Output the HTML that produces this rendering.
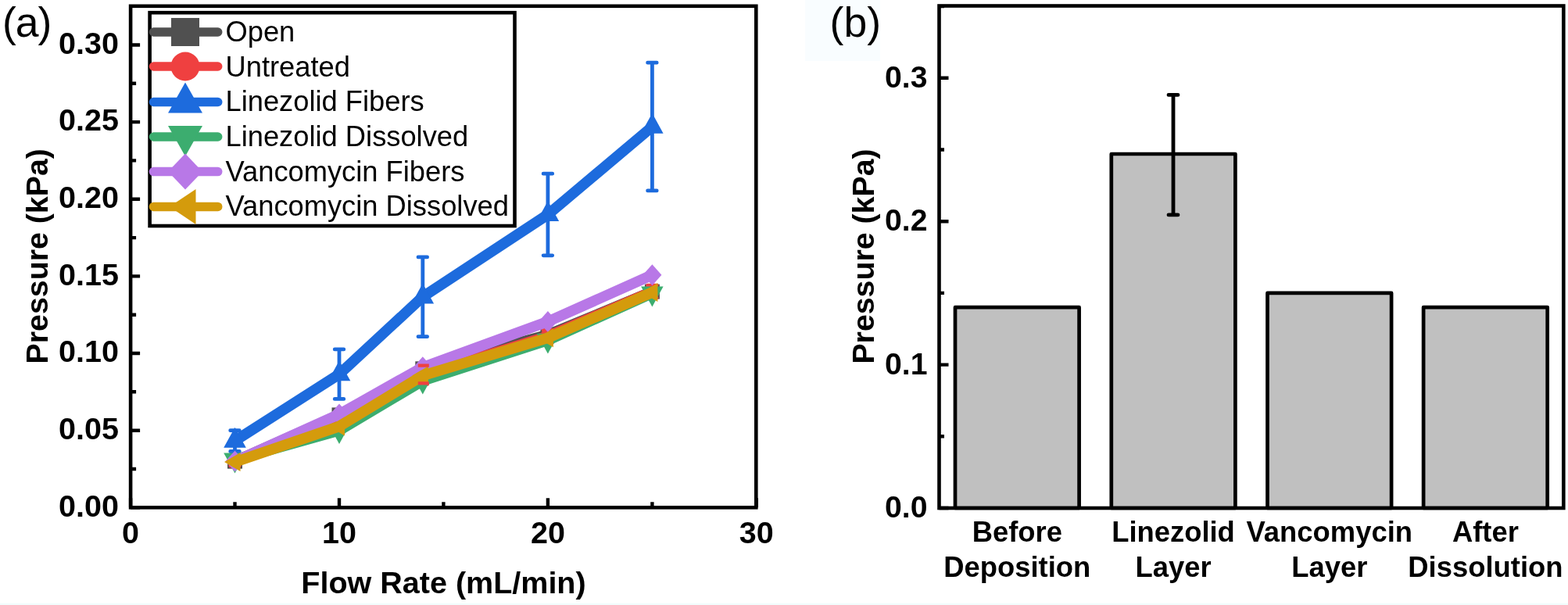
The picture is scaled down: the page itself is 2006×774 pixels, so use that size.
<!DOCTYPE html>
<html lang="en"><head><meta charset="utf-8"><title>Pressure vs flow rate</title>
<style>html,body{margin:0;padding:0;background:#fff}body{width:2006px;height:774px;overflow:hidden}svg{display:block}</style>
</head><body>
<svg width="2006" height="774" viewBox="0 0 2006 774">
<rect width="2006" height="774" fill="#fff"/>
<rect x="0" y="771.6" width="2006" height="2.4" fill="#f2fcfc"/>
<rect x="1030" y="0" width="96" height="78" fill="#f9fdff"/>
<g id="panelA">
<polyline points="300.5,590.1 434.0,530.9 540.8,471.8 700.9,428.4 834.4,373.1" fill="none" stroke="#505050" stroke-width="13.6" stroke-linejoin="round" stroke-linecap="round"/>
<rect x="291.0" y="580.6" width="19.0" height="19.0" fill="#505050"/>
<rect x="424.5" y="521.4" width="19.0" height="19.0" fill="#505050"/>
<rect x="531.3" y="462.3" width="19.0" height="19.0" fill="#505050"/>
<rect x="691.4" y="418.9" width="19.0" height="19.0" fill="#505050"/>
<rect x="824.9" y="363.6" width="19.0" height="19.0" fill="#505050"/>
<path d="M300.5 584.2V596.0M294.7 584.2h11.6M294.7 596.0h11.6" stroke="#ef4040" stroke-width="4.8" fill="none" stroke-linecap="round"/>
<path d="M434.0 530.9V546.7M428.2 530.9h11.6M428.2 546.7h11.6" stroke="#ef4040" stroke-width="4.8" fill="none" stroke-linecap="round"/>
<path d="M540.8 467.8V491.5M535.0 467.8h11.6M535.0 491.5h11.6" stroke="#ef4040" stroke-width="4.8" fill="none" stroke-linecap="round"/>
<path d="M700.9 422.4V438.2M695.1 422.4h11.6M695.1 438.2h11.6" stroke="#ef4040" stroke-width="4.8" fill="none" stroke-linecap="round"/>
<path d="M834.4 365.2V381.0M828.6 365.2h11.6M828.6 381.0h11.6" stroke="#ef4040" stroke-width="4.8" fill="none" stroke-linecap="round"/>
<polyline points="300.5,590.1 434.0,538.8 540.8,479.7 700.9,430.3 834.4,373.1" fill="none" stroke="#ef4040" stroke-width="13.6" stroke-linejoin="round" stroke-linecap="round"/>
<circle cx="300.5" cy="590.1" r="9.5" fill="#ef4040"/>
<circle cx="434.0" cy="538.8" r="9.5" fill="#ef4040"/>
<circle cx="540.8" cy="479.7" r="9.5" fill="#ef4040"/>
<circle cx="700.9" cy="430.3" r="9.5" fill="#ef4040"/>
<circle cx="834.4" cy="373.1" r="9.5" fill="#ef4040"/>
<path d="M300.5 550.7V577.5M294.7 550.7h11.6M294.7 577.5h11.6" stroke="#1d6bdd" stroke-width="4.8" fill="none" stroke-linecap="round"/>
<path d="M434.0 446.9V510.4M428.2 446.9h11.6M428.2 510.4h11.6" stroke="#1d6bdd" stroke-width="4.8" fill="none" stroke-linecap="round"/>
<path d="M540.8 328.9V430.7M535.0 328.9h11.6M535.0 430.7h11.6" stroke="#1d6bdd" stroke-width="4.8" fill="none" stroke-linecap="round"/>
<path d="M700.9 222.2V326.8M695.1 222.2h11.6M695.1 326.8h11.6" stroke="#1d6bdd" stroke-width="4.8" fill="none" stroke-linecap="round"/>
<path d="M834.4 80.2V243.9M828.6 80.2h11.6M828.6 243.9h11.6" stroke="#1d6bdd" stroke-width="4.8" fill="none" stroke-linecap="round"/>
<polyline points="300.5,564.1 434.0,478.7 540.8,379.8 700.9,274.5 834.4,162.1" fill="none" stroke="#1d6bdd" stroke-width="13.6" stroke-linejoin="round" stroke-linecap="round"/>
<polygon points="300.5,546.8 314.8,572.7 286.2,572.7" fill="#1d6bdd"/>
<polygon points="434.0,461.4 448.3,487.3 419.7,487.3" fill="#1d6bdd"/>
<polygon points="540.8,362.5 555.1,388.4 526.5,388.4" fill="#1d6bdd"/>
<polygon points="700.9,257.2 715.2,283.1 686.6,283.1" fill="#1d6bdd"/>
<polygon points="834.4,144.8 848.6,170.7 820.1,170.7" fill="#1d6bdd"/>
<polyline points="300.5,588.1 434.0,550.7 540.8,487.1 700.9,435.3 834.4,375.1" fill="none" stroke="#3cad6f" stroke-width="13.6" stroke-linejoin="round" stroke-linecap="round"/>
<polygon points="300.5,605.4 314.8,579.5 286.2,579.5" fill="#3cad6f"/>
<polygon points="434.0,568.0 448.3,542.1 419.7,542.1" fill="#3cad6f"/>
<polygon points="540.8,504.4 555.1,478.5 526.5,478.5" fill="#3cad6f"/>
<polygon points="700.9,452.6 715.2,426.7 686.6,426.7" fill="#3cad6f"/>
<polygon points="834.4,392.4 848.6,366.5 820.1,366.5" fill="#3cad6f"/>
<polyline points="300.5,590.1 434.0,530.0 540.8,469.8 700.9,411.4 834.4,351.8" fill="none" stroke="#b878e7" stroke-width="13.6" stroke-linejoin="round" stroke-linecap="round"/>
<polygon points="300.5,576.6 312.5,590.1 300.5,603.6 288.5,590.1" fill="#b878e7"/>
<polygon points="434.0,516.5 446.0,530.0 434.0,543.5 422.0,530.0" fill="#b878e7"/>
<polygon points="540.8,456.3 552.8,469.8 540.8,483.3 528.8,469.8" fill="#b878e7"/>
<polygon points="700.9,397.9 712.9,411.4 700.9,424.9 688.9,411.4" fill="#b878e7"/>
<polygon points="834.4,338.3 846.4,351.8 834.4,365.3 822.4,351.8" fill="#b878e7"/>
<polyline points="300.5,591.1 434.0,545.5 540.8,480.6 700.9,432.3 834.4,373.9" fill="none" stroke="#d49b0c" stroke-width="13.6" stroke-linejoin="round" stroke-linecap="round"/>
<polygon points="287.0,591.1 307.5,579.1 307.5,603.1" fill="#d49b0c"/>
<polygon points="420.5,545.5 441.0,533.5 441.0,557.5" fill="#d49b0c"/>
<polygon points="527.3,480.6 547.8,468.6 547.8,492.6" fill="#d49b0c"/>
<polygon points="687.4,432.3 707.9,420.3 707.9,444.3" fill="#d49b0c"/>
<polygon points="820.9,373.9 841.4,361.9 841.4,385.9" fill="#d49b0c"/>
<path d="M534.8 467.6h14M534.8 490.4h14" stroke="#ef4040" stroke-width="4.4" fill="none"/>
<rect x="167.1" y="7.8" width="800.2" height="641.5" fill="none" stroke="#000" stroke-width="4.6"/>
<path d="M167.1 649.3h12M167.1 550.7h12M167.1 452.0h12M167.1 353.4h12M167.1 254.8h12M167.1 156.1h12M167.1 57.5h12M167.1 600.0h7M167.1 501.3h7M167.1 402.7h7M167.1 304.1h7M167.1 205.4h7M167.1 106.8h7M167.1 649.3v-12M434.0 649.3v-12M700.9 649.3v-12M967.8 649.3v-12M300.5 649.3v-7M567.4 649.3v-7M834.4 649.3v-7" stroke="#000" stroke-width="4.4" fill="none"/>
<g font-family="Liberation Sans, Arial, sans-serif" font-weight="bold" font-size="39.5" fill="#000">
<text x="152" y="660.5" text-anchor="end">0.00</text>
<text x="152" y="561.9" text-anchor="end">0.05</text>
<text x="152" y="463.2" text-anchor="end">0.10</text>
<text x="152" y="364.6" text-anchor="end">0.15</text>
<text x="152" y="266.0" text-anchor="end">0.20</text>
<text x="152" y="167.3" text-anchor="end">0.25</text>
<text x="152" y="68.7" text-anchor="end">0.30</text>
<text x="167.1" y="694.5" text-anchor="middle">0</text>
<text x="434.0" y="694.5" text-anchor="middle">10</text>
<text x="700.9" y="694.5" text-anchor="middle">20</text>
<text x="967.8" y="694.5" text-anchor="middle">30</text>
</g>
<text font-family="Liberation Sans, Arial, sans-serif" font-weight="bold" font-size="39.5" x="567.5" y="759.3" text-anchor="middle">Flow Rate (mL/min)</text>
<text font-family="Liberation Sans, Arial, sans-serif" font-weight="bold" font-size="39.3" transform="translate(60.8 327.8) rotate(-90)" text-anchor="middle">Pressure (kPa)</text>
<text font-family="Liberation Sans, Arial, sans-serif" font-size="53.5" x="3" y="46.5" letter-spacing="-1">(a)</text>
<rect x="191.6" y="16.2" width="466.9" height="272.8" fill="#fff" stroke="#000" stroke-width="4.6"/>
<g font-family="Liberation Sans, Arial, sans-serif" font-size="36.3" fill="#000">
<line x1="196.5" y1="41" x2="278.7" y2="41" stroke="#505050" stroke-width="11.5" stroke-linecap="round"/>
<rect x="219.0" y="23.0" width="36.0" height="36.0" fill="#505050"/>
<text x="288.5" y="52.8">Open</text>
<line x1="196.5" y1="85" x2="278.7" y2="85" stroke="#ef4040" stroke-width="11.5" stroke-linecap="round"/>
<circle cx="237.0" cy="85.0" r="18.5" fill="#ef4040"/>
<text x="288.5" y="97.6">Untreated</text>
<line x1="196.5" y1="130.5" x2="278.7" y2="130.5" stroke="#1d6bdd" stroke-width="11.5" stroke-linecap="round"/>
<polygon points="237.0,105.5 259.0,144.5 215.0,144.5" fill="#1d6bdd"/>
<text x="288.5" y="142.4">Linezolid Fibers</text>
<line x1="196.5" y1="175" x2="278.7" y2="175" stroke="#3cad6f" stroke-width="11.5" stroke-linecap="round"/>
<polygon points="237.0,200.0 259.0,161.0 215.0,161.0" fill="#3cad6f"/>
<text x="288.5" y="186.9">Linezolid Dissolved</text>
<line x1="196.5" y1="219.6" x2="278.7" y2="219.6" stroke="#b878e7" stroke-width="11.5" stroke-linecap="round"/>
<polygon points="237.0,196.6 259.0,219.6 237.0,242.6 215.0,219.6" fill="#b878e7"/>
<text x="288.5" y="231.6">Vancomycin Fibers</text>
<line x1="196.5" y1="264.4" x2="278.7" y2="264.4" stroke="#d49b0c" stroke-width="11.5" stroke-linecap="round"/>
<polygon points="217.0,264.4 250.5,241.9 250.5,286.9" fill="#d49b0c"/>
<text x="288.5" y="275.8">Vancomycin Dissolved</text>
</g>
</g>
<g id="panelB">
<rect x="1222.0" y="393.2" width="158.6" height="256.8" fill="#c0c0c0" stroke="#000" stroke-width="4.7" stroke-linejoin="round"/>
<rect x="1421.8" y="197.0" width="158.6" height="453.0" fill="#c0c0c0" stroke="#000" stroke-width="4.7" stroke-linejoin="round"/>
<rect x="1621.5" y="374.9" width="158.6" height="275.1" fill="#c0c0c0" stroke="#000" stroke-width="4.7" stroke-linejoin="round"/>
<rect x="1821.1" y="393.2" width="158.6" height="256.8" fill="#c0c0c0" stroke="#000" stroke-width="4.7" stroke-linejoin="round"/>
<path d="M1501.0 121.4V274.9M1495.0 121.4h12M1495.0 274.9h12" stroke="#000" stroke-width="4.8" fill="none" stroke-linecap="round"/>
<rect x="1201.5" y="7.5" width="798.8" height="642.5" fill="none" stroke="#000" stroke-width="4.6"/>
<path d="M1201.5 650.0h12M1201.5 466.6h12M1201.5 283.2h12M1201.5 99.8h12M1201.5 558.3h6.5M1201.5 374.9h6.5M1201.5 191.5h6.5M1201.5 8.1h6.5" stroke="#000" stroke-width="4.4" fill="none"/>
<g font-family="Liberation Sans, Arial, sans-serif" font-weight="bold" font-size="39.2" fill="#000">
<text x="1186.5" y="662.2" text-anchor="end">0.0</text>
<text x="1186.5" y="478.8" text-anchor="end">0.1</text>
<text x="1186.5" y="295.4" text-anchor="end">0.2</text>
<text x="1186.5" y="112.0" text-anchor="end">0.3</text>
</g>
<g font-family="Liberation Sans, Arial, sans-serif" font-weight="bold" font-size="36.4" fill="#000">
<text x="1301.3" y="693" text-anchor="middle">Before</text>
<text x="1301.3" y="738.3" text-anchor="middle">Deposition</text>
<text x="1501.0" y="693" text-anchor="middle">Linezolid</text>
<text x="1501.0" y="738.3" text-anchor="middle">Layer</text>
<text x="1700.8" y="693" text-anchor="middle">Vancomycin</text>
<text x="1700.8" y="738.3" text-anchor="middle">Layer</text>
<text x="1900.4" y="693" text-anchor="middle">After</text>
<text x="1900.4" y="738.3" text-anchor="middle">Dissolution</text>
</g>
<text font-family="Liberation Sans, Arial, sans-serif" font-weight="bold" font-size="39.3" transform="translate(1118 328) rotate(-90)" text-anchor="middle">Pressure (kPa)</text>
<text font-family="Liberation Sans, Arial, sans-serif" font-size="53.5" x="1061.6" y="46.5">(b)</text>
</g>
</svg>
</body></html>
